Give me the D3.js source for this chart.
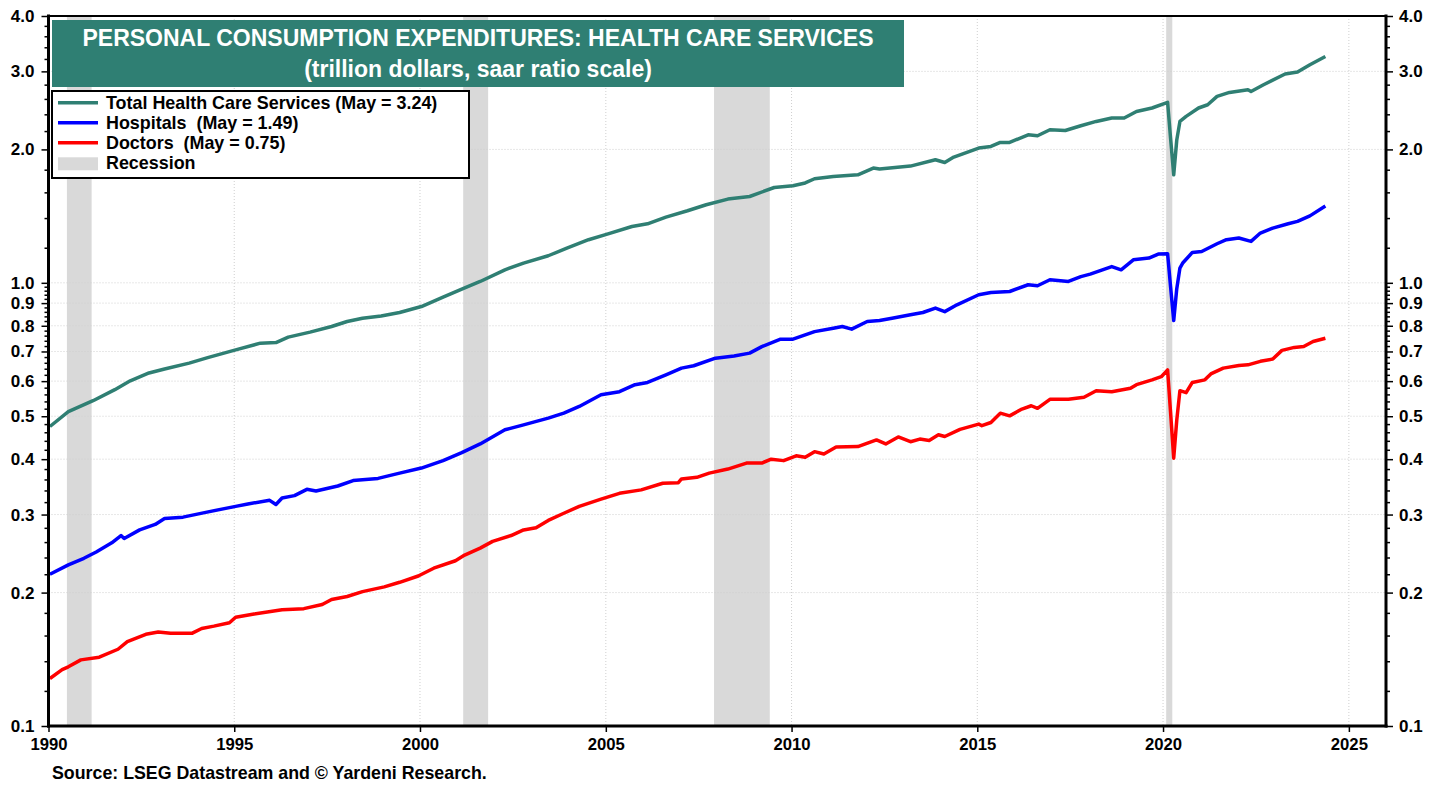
<!DOCTYPE html>
<html>
<head>
<meta charset="utf-8">
<script src="https://cdn.jsdelivr.net/npm/d3@7"></script>
<style>
  body { margin: 0; background: #fff; }
  svg text { font-family: "Liberation Sans", Arial, sans-serif; font-weight: bold; }
</style>
</head>
<body>
<svg id="chart" width="1442" height="789"></svg>
<script>
// Värden (biljoner dollar, saar)
const totalHealth = [
  ["1990-01",0.474],["1990-07",0.512],["1991-03",0.542],["1991-10",0.574],["1992-03",0.601],
  ["1992-09",0.626],["1993-02",0.639],["1993-10",0.659],["1994-04",0.678],["1995-01",0.706],
  ["1995-09",0.731],["1996-02",0.733],["1996-06",0.754],["1997-01",0.774],["1997-08",0.797],
  ["1998-01",0.818],["1998-06",0.832],["1998-12",0.842],["1999-06",0.857],["2000-01",0.884],
  ["2000-08",0.928],["2001-02",0.968],["2001-08",1.007],["2002-04",1.070],["2002-10",1.108],
  ["2003-06",1.151],["2003-12",1.198],["2004-07",1.251],["2005-01",1.288],["2005-09",1.340],
  ["2006-02",1.359],["2006-08",1.407],["2007-03",1.454],["2007-09",1.500],["2008-04",1.545],
  ["2008-11",1.566],["2009-07",1.641],["2010-01",1.656],["2010-05",1.680],["2010-08",1.717],
  ["2011-02",1.738],["2011-10",1.753],["2012-03",1.815],["2012-05",1.806],["2013-03",1.834],
  ["2013-11",1.895],["2014-02",1.869],["2014-05",1.922],["2015-01",2.014],["2015-05",2.031],
  ["2015-08",2.074],["2015-11",2.074],["2016-05",2.158],["2016-08",2.147],["2016-12",2.215],
  ["2017-05",2.207],["2017-10",2.262],["2018-03",2.313],["2018-08",2.354],["2018-12",2.354],
  ["2019-04",2.436],["2019-09",2.480],["2020-02",2.553],["2020-03",2.120],["2020-04",1.753],
  ["2020-05",2.100],["2020-06",2.313],["2020-08",2.374],["2020-12",2.480],["2021-03",2.522],
  ["2021-06",2.634],["2021-10",2.689],["2022-04",2.727],["2022-05",2.703],["2022-09",2.799],
  ["2023-04",2.959],["2023-08",2.990],["2023-12",3.105],["2024-05",3.240]
];

const hospitals = [
  ["1990-01",0.220],["1990-07",0.231],["1990-12",0.239],["1991-04",0.247],["1991-09",0.259],
  ["1991-12",0.269],["1992-01",0.265],["1992-06",0.277],["1992-11",0.285],["1993-02",0.294],
  ["1993-08",0.296],["1994-03",0.303],["1995-01",0.313],["1995-05",0.317],["1995-12",0.323],
  ["1996-02",0.316],["1996-04",0.327],["1996-08",0.331],["1996-12",0.342],["1997-03",0.339],
  ["1997-10",0.348],["1998-03",0.358],["1998-11",0.362],["1999-06",0.372],["2000-01",0.382],
  ["2000-08",0.397],["2001-02",0.414],["2001-08",0.433],["2002-04",0.466],["2002-10",0.478],
  ["2003-06",0.495],["2003-11",0.508],["2004-04",0.526],["2004-11",0.559],["2005-05",0.568],
  ["2005-10",0.589],["2006-02",0.596],["2006-08",0.620],["2007-01",0.642],["2007-05",0.650],
  ["2007-12",0.676],["2008-06",0.684],["2008-11",0.694],["2009-03",0.718],["2009-09",0.746],
  ["2010-01",0.746],["2010-08",0.776],["2011-02",0.790],["2011-05",0.797],["2011-08",0.786],
  ["2012-01",0.818],["2012-05",0.822],["2012-09",0.832],["2013-03",0.847],["2013-07",0.857],
  ["2013-11",0.877],["2014-02",0.861],["2014-06",0.892],["2015-01",0.940],["2015-05",0.951],
  ["2015-11",0.956],["2016-05",0.990],["2016-08",0.985],["2016-12",1.016],["2017-06",1.007],
  ["2017-10",1.033],["2018-01",1.046],["2018-08",1.088],["2018-11",1.070],["2019-03",1.127],
  ["2019-08",1.137],["2019-11",1.161],["2020-02",1.163],["2020-03",0.980],["2020-04",0.822],
  ["2020-05",0.970],["2020-06",1.080],["2020-07",1.110],["2020-10",1.171],["2021-01",1.177],
  ["2021-06",1.225],["2021-09",1.251],["2022-01",1.262],["2022-05",1.240],["2022-08",1.295],
  ["2022-12",1.329],["2023-05",1.359],["2023-08",1.376],["2023-12",1.416],["2024-05",1.490]
];

const doctors = [
  ["1990-01",0.128],["1990-05",0.134],["1990-07",0.136],["1990-11",0.141],["1991-05",0.143],
  ["1991-11",0.149],["1992-02",0.155],["1992-08",0.161],["1992-12",0.163],["1993-04",0.162],
  ["1993-11",0.162],["1994-02",0.166],["1994-06",0.168],["1994-11",0.171],["1995-01",0.176],
  ["1995-07",0.179],["1996-04",0.183],["1996-11",0.184],["1997-05",0.188],["1997-08",0.193],
  ["1998-01",0.196],["1998-06",0.201],["1999-01",0.206],["1999-06",0.211],["1999-12",0.218],
  ["2000-05",0.227],["2000-12",0.236],["2001-03",0.243],["2001-08",0.252],["2001-12",0.261],
  ["2002-06",0.269],["2002-10",0.277],["2003-02",0.280],["2003-06",0.291],["2003-11",0.302],
  ["2004-04",0.313],["2004-11",0.325],["2005-05",0.335],["2005-12",0.341],["2006-07",0.353],
  ["2006-12",0.354],["2007-01",0.361],["2007-06",0.364],["2007-10",0.372],["2008-04",0.380],
  ["2008-10",0.392],["2009-03",0.392],["2009-06",0.400],["2009-10",0.397],["2010-02",0.407],
  ["2010-05",0.404],["2010-08",0.416],["2010-11",0.411],["2011-03",0.426],["2011-10",0.427],
  ["2012-04",0.442],["2012-07",0.433],["2012-11",0.449],["2013-03",0.438],["2013-06",0.444],
  ["2013-09",0.441],["2013-12",0.454],["2014-02",0.450],["2014-07",0.467],["2015-01",0.480],
  ["2015-02",0.476],["2015-05",0.484],["2015-08",0.508],["2015-11",0.501],["2016-03",0.519],
  ["2016-06",0.528],["2016-08",0.521],["2016-12",0.546],["2017-06",0.546],["2017-11",0.552],
  ["2018-03",0.571],["2018-08",0.568],["2019-02",0.578],["2019-04",0.589],["2019-09",0.604],
  ["2019-12",0.614],["2020-02",0.636],["2020-03",0.510],["2020-04",0.402],["2020-05",0.490],
  ["2020-06",0.571],["2020-08",0.565],["2020-10",0.596],["2021-02",0.604],["2021-04",0.623],
  ["2021-08",0.642],["2022-01",0.651],["2022-04",0.653],["2022-08",0.665],["2022-12",0.673],
  ["2023-03",0.704],["2023-07",0.715],["2023-10",0.718],["2024-01",0.737],["2024-05",0.750]
];

const recessions = [["1990-07","1991-03"],["2001-03","2001-11"],["2007-12","2009-06"],["2020-02","2020-04"]];

const yTickValues = [0.1,0.2,0.3,0.4,0.5,0.6,0.7,0.8,0.9,1.0,2.0,3.0,4.0];
const xTickYears = [1990,1995,2000,2005,2010,2015,2020,2025];

const series = [
  { name: "Total Health Care Services (May = 3.24)", color: "#2f7f73", data: totalHealth },
  { name: "Hospitals  (May = 1.49)", color: "#0000ff", data: hospitals },
  { name: "Doctors  (May = 0.75)", color: "#ff0000", data: doctors }
];

const titleLines = ["PERSONAL CONSUMPTION EXPENDITURES: HEALTH CARE SERVICES",
                    "(trillion dollars, saar ratio scale)"];
const sourceText = "Source: LSEG Datastream and \u00A9 Yardeni Research.";

// Layout
const plot = { left: 48.5, right: 1386, top: 16, bottom: 726 };
const svg = d3.select("#chart");

const parseMonth = s => { const [y, m] = s.split("-").map(Number); return new Date(y, m - 1, 15); };
const parseStart = s => { const [y, m] = s.split("-").map(Number); return new Date(y, m - 1, 1); };

const x = d3.scaleTime()
  .domain([new Date(1990, 0, 1), new Date(2026, 0, 1)])
  .range([plot.left, plot.right]);

const y = d3.scaleLog()
  .domain([0.1, 4])
  .range([plot.bottom, plot.top]);

// Mindre skalstreck (0.02 upp till 1, 0.2 över 1)
const minorTicks = d3.range(0.12, 0.999, 0.02).concat(d3.range(1.2, 3.99, 0.2))
  .filter(v => !yTickValues.some(t => Math.abs(t - v) < 1e-6));

// Recessionsband
svg.append("g").selectAll("rect")
  .data(recessions)
  .join("rect")
  .attr("x", d => x(parseStart(d[0])))
  .attr("width", d => x(parseStart(d[1])) - x(parseStart(d[0])))
  .attr("y", plot.top)
  .attr("height", plot.bottom - plot.top)
  .attr("fill", "#d9d9d9");

// Rutnät
const gGrid = svg.append("g")
  .attr("stroke", "#cfcfcf")
  .attr("stroke-width", 1)
  .attr("stroke-dasharray", "1,2");

gGrid.selectAll("line.h")
  .data(yTickValues.filter(v => v > 0.1 && v < 4))
  .join("line")
  .attr("class", "h")
  .attr("x1", plot.left).attr("x2", plot.right)
  .attr("y1", d => y(d)).attr("y2", d => y(d));

gGrid.selectAll("line.v")
  .data(xTickYears.filter(v => v > 1990))
  .join("line")
  .attr("class", "v")
  .attr("x1", d => x(new Date(d, 0, 1))).attr("x2", d => x(new Date(d, 0, 1)))
  .attr("y1", plot.top).attr("y2", plot.bottom);

// Serielinjer
const line = d3.line()
  .x(d => x(parseMonth(d[0])))
  .y(d => y(d[1]));

svg.append("g").selectAll("path")
  .data(series)
  .join("path")
  .attr("d", d => line(d.data))
  .attr("fill", "none")
  .attr("stroke", d => d.color)
  .attr("stroke-width", 3.5)
  .attr("stroke-linejoin", "round");

// Axlar
const fmt = d3.format(".1f");

const styleAxis = g => {
  g.select(".domain").remove();
  g.selectAll(".tick line").attr("stroke", "#000").attr("stroke-width", 1.5);
  g.selectAll(".tick text").attr("fill", "#000").style("font-size", "17px");
};

svg.append("g")
  .attr("transform", `translate(${plot.left},0)`)
  .call(d3.axisLeft(y).tickValues(yTickValues).tickFormat(fmt).tickSize(7).tickPadding(7))
  .call(styleAxis);

svg.append("g")
  .attr("transform", `translate(${plot.left},0)`)
  .call(d3.axisLeft(y).tickValues(minorTicks).tickFormat("").tickSize(4))
  .call(styleAxis);

svg.append("g")
  .attr("transform", `translate(${plot.right},0)`)
  .call(d3.axisRight(y).tickValues(yTickValues).tickFormat(fmt).tickSize(7).tickPadding(6))
  .call(styleAxis);

svg.append("g")
  .attr("transform", `translate(${plot.right},0)`)
  .call(d3.axisRight(y).tickValues(minorTicks).tickFormat("").tickSize(4))
  .call(styleAxis);

svg.append("g")
  .attr("transform", `translate(0,${plot.bottom})`)
  .call(d3.axisBottom(x)
    .tickValues(xTickYears.map(yr => new Date(yr, 0, 1)))
    .tickFormat(d3.timeFormat("%Y"))
    .tickSize(6).tickPadding(6))
  .call(styleAxis)
  .call(g => g.selectAll(".tick text").style("font-size", "16.7px"));

// Ram
const gFrame = svg.append("g").attr("stroke", "#000").attr("stroke-linecap", "square");
gFrame.append("line").attr("x1", plot.left).attr("x2", plot.right).attr("y1", plot.top).attr("y2", plot.top).attr("stroke-width", 2);
gFrame.append("line").attr("x1", plot.left).attr("x2", plot.right).attr("y1", plot.bottom).attr("y2", plot.bottom).attr("stroke-width", 3);
gFrame.append("line").attr("x1", plot.left).attr("x2", plot.left).attr("y1", plot.top).attr("y2", plot.bottom).attr("stroke-width", 3);
gFrame.append("line").attr("x1", plot.right).attr("x2", plot.right).attr("y1", plot.top).attr("y2", plot.bottom).attr("stroke-width", 3);

// Titelruta
svg.append("rect")
  .attr("x", 52).attr("y", 20)
  .attr("width", 852).attr("height", 67)
  .attr("fill", "#2f7f73");

svg.selectAll("text.title")
  .data(titleLines)
  .join("text")
  .attr("class", "title")
  .attr("x", 478)
  .attr("y", (d, i) => i === 0 ? 46 : 77)
  .attr("text-anchor", "middle")
  .attr("fill", "#fff")
  .style("font-size", "23px")
  .text(d => d);

// Förklaring
const gLegend = svg.append("g");
gLegend.append("rect")
  .attr("x", 52).attr("y", 91)
  .attr("width", 417).attr("height", 87)
  .attr("fill", "#fff")
  .attr("stroke", "#000")
  .attr("stroke-width", 2);

const legendItems = series.map(s => ({ name: s.name, color: s.color, type: "line" }))
  .concat([{ name: "Recession", color: "#d9d9d9", type: "box" }]);

legendItems.forEach((item, i) => {
  const base = 109.3 + i * 20;
  if (item.type === "line") {
    gLegend.append("line")
      .attr("x1", 58).attr("x2", 98)
      .attr("y1", base - 6.5).attr("y2", base - 6.5)
      .attr("stroke", item.color)
      .attr("stroke-width", 3.5);
  } else {
    gLegend.append("rect")
      .attr("x", 58).attr("y", base - 12)
      .attr("width", 40).attr("height", 13)
      .attr("fill", item.color);
  }
  gLegend.append("text")
    .attr("x", 106).attr("y", base)
    .attr("fill", "#000")
    .style("font-size", "17.9px")
    .style("white-space", "pre")
    .text(item.name);
});

// Källa
svg.append("text")
  .attr("x", 52).attr("y", 779)
  .attr("fill", "#000")
  .style("font-size", "17.8px")
  .text(sourceText);
</script>
</body>
</html>
